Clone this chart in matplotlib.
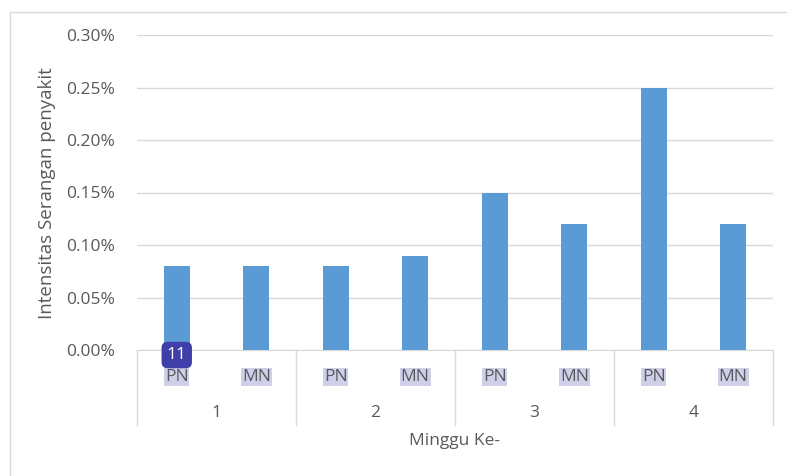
import matplotlib.pyplot as plt
import matplotlib.transforms as mtransforms
from matplotlib.patches import Rectangle
from matplotlib.ticker import FuncFormatter

weeks = ['1', '2', '3', '4']
kinds = ['PN', 'MN']
values = [0.08, 0.08, 0.08, 0.09, 0.15, 0.12, 0.25, 0.12]  # percent

plt.rcParams['font.family'] = ['Open Sans', 'DejaVu Sans']
txt = '#595959'
bar_c = '#5B9BD5'
grid_c = '#D9D9D9'
fs = 12.5

fig = plt.figure(figsize=(7.87, 4.76), dpi=100)
fig.patches.append(Rectangle((10 / 787, -0.1), 1.2, 1.1 - 12 / 476, transform=fig.transFigure,
                             fill=False, edgecolor='#D9D9D9', lw=1))
ax = fig.add_axes([137 / 787, 1 - 350 / 476, (773 - 137) / 787, (350 - 35) / 476])

pos = [i + 0.5 for i in range(len(values))]
ax.bar(pos, values, width=0.33, color=bar_c, zorder=3)
ax.set_xlim(0, 8)
ax.set_ylim(0, 0.30)
ax.set_yticks([0, 0.05, 0.10, 0.15, 0.20, 0.25, 0.30])
ax.yaxis.set_major_formatter(FuncFormatter(lambda v, p: f'{v:.2f}%'))
ax.grid(axis='y', color=grid_c, lw=1, zorder=0)
for s in ['top', 'right', 'left']:
    ax.spines[s].set_visible(False)
ax.spines['bottom'].set_color(grid_c)
ax.tick_params(axis='y', length=0, labelsize=fs, colors=txt, pad=16)
ax.tick_params(axis='x', length=0, labelbottom=False)

tr = mtransforms.blended_transform_factory(ax.transData, ax.transAxes)
for i, x in enumerate(pos):
    ax.text(x, -0.086, kinds[i % 2], transform=tr, ha='center', va='center', fontsize=fs,
            color=txt, bbox=dict(boxstyle='square,pad=0.05', fc='#D0CFEA', ec='none'))
for j, w in enumerate(weeks):
    ax.text(2 * j + 1, -0.2, w, transform=tr, ha='center', va='center', fontsize=fs, color=txt)
for k in range(len(weeks) + 1):
    ax.plot([2 * k, 2 * k], [0, -0.238], transform=tr, color=grid_c, lw=1, clip_on=False)

ax.text(pos[0], -0.016, '11', transform=tr, ha='center', va='center', fontsize=fs, color='white',
        zorder=5, bbox=dict(boxstyle='round,pad=0.3,rounding_size=0.35', fc='#3F3FAA', ec='none'))

fig.text(0.5 * (137 + 773) / 787, 1 - 441 / 476, 'Minggu Ke-', ha='center', va='center',
         fontsize=fs, color=txt)
fig.text(47 / 787, 1 - 193 / 476, 'Intensitas Serangan penyakit', rotation=90, ha='center',
         va='center', fontsize=13.5, color=txt)

fig.savefig('out.png', dpi=100)
